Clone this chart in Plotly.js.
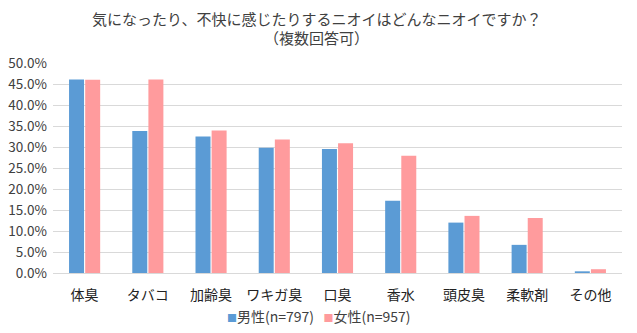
<!DOCTYPE html>
<html><head><meta charset="utf-8">
<script src="https://cdn.plot.ly/plotly-3.0.1.min.js"></script>
<style>html,body{margin:0;padding:0;background:#fff}#c{width:637px;height:333px}</style>
</head><body><div id="c"></div>
<script>
const categories = ["体臭","タバコ","加齢臭","ワキガ臭","口臭","香水","頭皮臭","柔軟剤","その他"];
const male = [46.1, 33.8, 32.5, 29.8, 29.5, 17.2, 12.0, 6.7, 0.4];
const female = [46.0, 46.1, 33.9, 31.8, 30.9, 27.9, 13.6, 13.1, 0.9];
const seriesNames = ["男性(n=797)", "女性(n=957)"];
const seriesColors = ['#5B9BD5', '#FF9B9D'];
const tickVals = [0,5,10,15,20,25,30,35,40,45,50];
const tickText = tickVals.map(v => v.toFixed(1) + '%');

const font = "'Noto Sans CJK JP', 'Noto Sans', sans-serif";
const data = [
  {type:'bar', x:categories, y:male, name:seriesNames[0], marker:{color:seriesColors[0]}},
  {type:'bar', x:categories, y:female, name:seriesNames[1], marker:{color:seriesColors[1]}}
];
const legendText = seriesNames.map((n,i) => '<span style="color:' + seriesColors[i] + ';font-size:10px">■</span>' + n).join('   ');
const cx = 0.463;
const layout = {
  width:637, height:333,
  margin:{l:53, r:15, t:63, b:60, autoexpand:false},
  paper_bgcolor:'#fff', plot_bgcolor:'#fff',
  font:{family:font, color:'#404040'},
  barmode:'group', bargap:0.49, bargroupgap:0.07,
  xaxis:{tickfont:{family:font, size:14, color:'#222'}, showline:true, linecolor:'#d9d9d9', ticks:'', fixedrange:true, automargin:false, ticklabelstandoff:9},
  yaxis:{range:[0,50], tickvals:tickVals, ticktext:tickText, gridcolor:'#d9d9d9', zeroline:false,
         tickfont:{family:font, size:13.5, color:'#404040'}, ticks:'', fixedrange:true, automargin:false, ticklabelstandoff:5},
  showlegend:false,
  annotations:[
    {text:'気になったり、不快に感じたりするニオイはどんなニオイですか？', xref:'paper', yref:'paper', x:cx, y:1, xanchor:'center', yanchor:'middle',
     yshift:45, showarrow:false, font:{family:font, size:15, color:'#404040'}},
    {text:'（複数回答可）', xref:'paper', yref:'paper', x:cx, y:1, xanchor:'center', yanchor:'middle',
     yshift:26, showarrow:false, font:{family:font, size:15, color:'#404040'}},
    {text:legendText, xref:'paper', yref:'paper', x:cx + 0.005, y:0, xanchor:'center', yanchor:'middle',
     yshift:-43, showarrow:false, font:{family:font, size:14, color:'#404040'}}
  ]
};
Plotly.newPlot('c', data, layout, {displayModeBar:false, staticPlot:true});
</script></body></html>
